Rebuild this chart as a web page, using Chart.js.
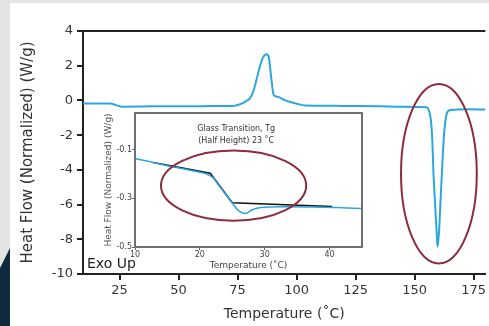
<!DOCTYPE html>
<html><head><meta charset="utf-8">
<script src="https://cdn.jsdelivr.net/npm/chart.js@4.4.1/dist/chart.umd.min.js"></script>
<style>
html,body{margin:0;padding:0;width:489px;height:326px;overflow:hidden;background:#e4e4e4;}
#white{position:absolute;left:10px;top:3px;right:0;bottom:0;background:#fff;}
#navy{position:absolute;left:0;top:240px;width:10px;height:86px;background:#0f2a3c;clip-path:polygon(0 28px,10px 8px,10px 86px,0 86px);}
#main{position:absolute;left:0;top:0;}
#inset{position:absolute;left:98px;top:106px;}
</style></head><body>
<div id="white"></div><div id="navy"></div>
<canvas id="main" width="489" height="326"></canvas>
<canvas id="inset" width="272" height="170"></canvas>
<script>
// ---- main DSC curve ----
const temps = [9.5, 15, 21, 23, 25, 27, 35, 45, 60, 70, 73, 76, 78.5, 80.2, 81.6, 83, 84.4, 85.8, 87.2, 88.2, 88.9, 89.7, 90.3, 92, 94.9, 98.4, 104, 110, 120, 135, 145, 155.1, 156.0, 156.9, 157.5, 158.0, 158.6, 159.3, 159.7, 160.4, 161.0, 161.7, 162.4, 163.1, 163.9, 165.3, 172.6, 180];
const heatFlow = [-0.17, -0.17, -0.18, -0.25, -0.33, -0.36, -0.35, -0.33, -0.33, -0.32, -0.32, -0.22, -0.05, 0.12, 0.5, 1.18, 1.94, 2.48, 2.66, 2.52, 1.75, 0.79, 0.31, 0.21, 0.02, -0.13, -0.29, -0.30, -0.32, -0.34, -0.37, -0.40, -0.55, -1.13, -2.28, -4.2, -5.74, -7.47, -8.43, -7.47, -5.74, -3.82, -2.09, -1.13, -0.67, -0.55, -0.51, -0.52];
const xTicks = [25, 50, 75, 100, 125, 150, 175];
const yTicks = [-10, -8, -6, -4, -2, 0, 2, 4];

// ---- inset (glass transition) ----
const insetTemps = [10, 12, 14, 16, 18, 20, 21, 22, 23, 24, 25, 26, 27, 28, 29, 30, 33, 37, 41, 45];
const insetFlow = [-0.137, -0.148, -0.160, -0.172, -0.182, -0.193, -0.200, -0.215, -0.250, -0.285, -0.320, -0.352, -0.362, -0.348, -0.340, -0.337, -0.335, -0.336, -0.338, -0.342];
const tangentTemps = [12.8, 21.6, 25.0, 40.4];
const tangentFlow = [-0.153, -0.197, -0.318, -0.334];
const insetXTicks = [10, 20, 30, 40];
const insetYTicks = [-0.5, -0.3, -0.1];

// annotations (data coordinates)
const meltEllipse = {t: 160.3, v: -4.22, rt: 16.05, rv: 5.17};
const tgEllipse = {t: 25.2, v: -0.248, rt: 11.2, rv: 0.144};
const insetTitle = ['Glass Transition, Tg', '(Half Height) 23 \u02DAC'];
const insetTitlePos = {t: 25.6, v: [-0.014, -0.063]};

Chart.defaults.font.family = "'DejaVu Sans', sans-serif";
const pts = (xs, ys) => xs.map((x, i) => ({x, y: ys[i]}));
const RED = '#8c2d3c', BLUE = '#2ba6de';

function ellipsePlugin(id, e) {
  return {id, afterDatasetsDraw(chart) {
    const {ctx, scales: {x, y}} = chart;
    const cx = x.getPixelForValue(e.t), cy = y.getPixelForValue(e.v);
    const rx = Math.abs(x.getPixelForValue(e.t + e.rt) - cx);
    const ry = Math.abs(y.getPixelForValue(e.v + e.rv) - cy);
    ctx.save(); ctx.beginPath(); ctx.ellipse(cx, cy, rx, ry, 0, 0, 2 * Math.PI);
    ctx.strokeStyle = RED; ctx.lineWidth = 2; ctx.stroke(); ctx.restore();
  }};
}

const mainFrame = {id: 'mainFrame', afterDraw(chart) {
  const {ctx, chartArea: a} = chart;
  ctx.save();
  ctx.strokeStyle = '#222'; ctx.lineWidth = 2;
  ctx.beginPath(); ctx.moveTo(a.left - 1, a.top); ctx.lineTo(a.right, a.top); ctx.stroke();
  ctx.fillStyle = '#222'; ctx.font = "14px 'DejaVu Sans'"; ctx.textBaseline = 'alphabetic'; ctx.textAlign = 'left';
  ctx.fillText('Exo Up', a.left + 4, a.bottom - 6);
  ctx.restore();
}};

const axisCommon = (color, w, tl) => ({
  grid: {display: true, drawOnChartArea: false, drawTicks: true, tickLength: tl, color, lineWidth: w, tickWidth: w},
});

new Chart(document.getElementById('main'), {
  type: 'line',
  data: {datasets: [{data: pts(temps, heatFlow), borderColor: BLUE, borderWidth: 2, pointRadius: 0, cubicInterpolationMode: 'monotone', fill: false}]},
  options: {
    responsive: false, animation: false,
    layout: {padding: {top: 31, left: 0, right: 0, bottom: 0}},
    plugins: {legend: {display: false}, tooltip: {enabled: false}},
    scales: {
      x: {type: 'linear', min: 9.5, max: 180,
        afterBuildTicks: s => { s.ticks = xTicks.map(v => ({value: v})); },
        afterFit: s => { s.height = 52; },
        ...axisCommon('#222', 2, 6),
        border: {display: true, color: '#222', width: 2},
        ticks: {color: '#333', font: {size: 13}, padding: 3, maxRotation: 0, autoSkip: false},
        title: {display: true, text: 'Temperature (\u02DAC)', color: '#333', font: {size: 14}, padding: {top: 0, bottom: 3}}},
      y: {type: 'linear', min: -10, max: 4,
        afterBuildTicks: s => { s.ticks = yTicks.map(v => ({value: v})); },
        afterFit: s => { s.width = 83; },
        ...axisCommon('#222', 2, 6),
        border: {display: true, color: '#222', width: 2},
        ticks: {color: '#333', font: {size: 13}, padding: 4, autoSkip: false},
        title: {display: true, text: 'Heat Flow (Normalized) (W/g)', color: '#333', font: {size: 15}, padding: {top: 19, bottom: 0}}}
    }
  },
  plugins: [mainFrame, ellipsePlugin('meltEllipse', meltEllipse)]
});

const insetFrame = {id: 'insetFrame', afterDraw(chart) {
  const {ctx, chartArea: a, scales: {x, y}} = chart;
  ctx.save();
  ctx.strokeStyle = '#707070'; ctx.lineWidth = 2;
  ctx.strokeRect(a.left, a.top, a.right - a.left, a.bottom - a.top);
  ctx.fillStyle = '#333'; ctx.font = "8px 'DejaVu Sans'"; ctx.textAlign = 'center'; ctx.textBaseline = 'middle';
  insetTitle.forEach((t, i) => ctx.fillText(t, x.getPixelForValue(insetTitlePos.t), y.getPixelForValue(insetTitlePos.v[i])));
  ctx.restore();
}};

new Chart(document.getElementById('inset'), {
  type: 'line',
  data: {datasets: [
    {data: pts(insetTemps, insetFlow), borderColor: BLUE, borderWidth: 1.5, pointRadius: 0, cubicInterpolationMode: 'monotone', fill: false},
    {data: pts(tangentTemps, tangentFlow), borderColor: '#111', borderWidth: 1.5, pointRadius: 0, tension: 0, fill: false}
  ]},
  options: {
    responsive: false, animation: false,
    layout: {padding: {top: 7, left: 0, right: 8, bottom: 0}},
    plugins: {legend: {display: false}, tooltip: {enabled: false}},
    scales: {
      x: {type: 'linear', min: 10, max: 45,
        afterBuildTicks: s => { s.ticks = insetXTicks.map(v => ({value: v})); },
        afterFit: s => { s.height = 29; },
        ...axisCommon('#666', 1, 3),
        border: {display: false},
        ticks: {color: '#444', font: {size: 8}, padding: 0, maxRotation: 0, autoSkip: false},
        title: {display: true, text: 'Temperature (\u02DAC)', color: '#444', font: {size: 9}, padding: {top: 0, bottom: 5}}},
      y: {type: 'linear', min: -0.5, max: 0.05,
        afterBuildTicks: s => { s.ticks = insetYTicks.map(v => ({value: v})); },
        afterFit: s => { s.width = 37; },
        ...axisCommon('#666', 1, 3),
        border: {display: false},
        ticks: {color: '#444', font: {size: 8}, padding: 0, autoSkip: false, callback: v => v.toFixed(1)},
        title: {display: true, text: 'Heat Flow (Normalized) (W/g)', color: '#555', font: {size: 9}, padding: {top: 5, bottom: 0}}}
    }
  },
  plugins: [insetFrame, ellipsePlugin('tgEllipse', tgEllipse)]
});
</script>
</body></html>
